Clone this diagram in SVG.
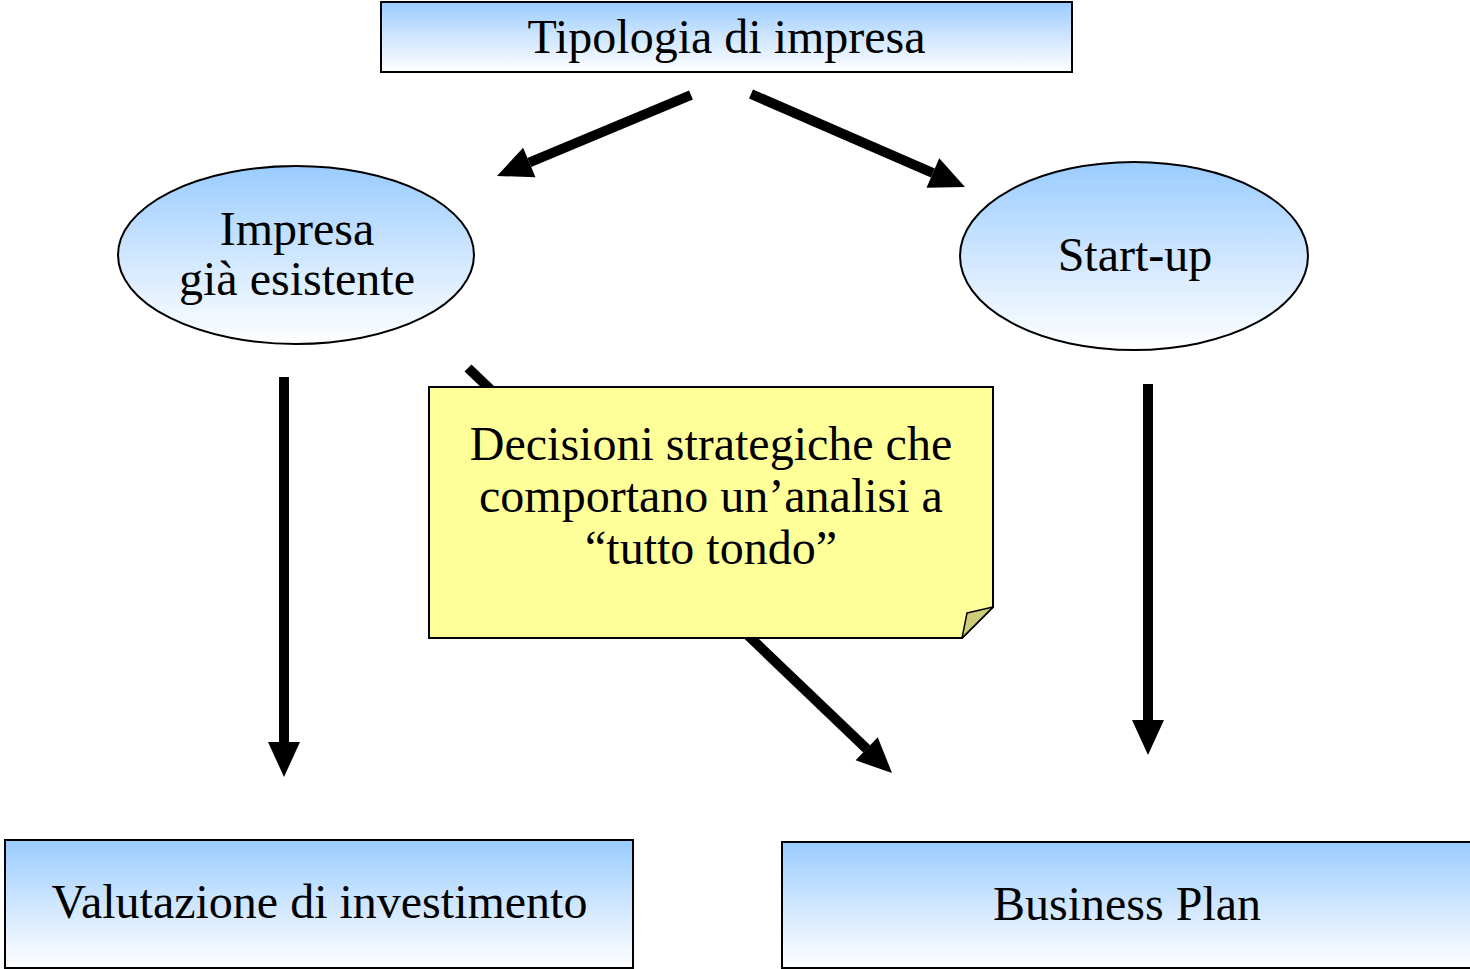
<svg xmlns="http://www.w3.org/2000/svg" width="1470" height="969" viewBox="0 0 1470 969">
  <style>
    .lbl { font-family: "Liberation Serif", "Times New Roman", serif; font-size: 48px; fill: #000; text-anchor: middle; }
    .box { fill: url(#blueFade); stroke: #000; stroke-width: 2; }
    .conn { stroke: #000; stroke-width: 10; fill: none; marker-end: url(#head); }
  </style>
  <defs>
    <linearGradient id="blueFade" x1="0" y1="0" x2="0" y2="1">
      <stop offset="0" stop-color="#99ccff"/>
      <stop offset="0.5" stop-color="#cfe6ff"/>
      <stop offset="1" stop-color="#ffffff"/>
    </linearGradient>
    <!-- head drawn from its base (x=0) forward to the tip -->
    <marker id="head" markerUnits="strokeWidth" markerWidth="3.6" markerHeight="3.4" refX="0" refY="1.6" orient="auto" overflow="visible">
      <path d="M0,0 L3.5,1.6 L0,3.2 Z" fill="#000"/>
    </marker>
  </defs>

  <rect width="1470" height="969" fill="#ffffff"/>

  <!-- connectors -->
  <g id="connectors">
    <line class="conn" x1="691" y1="95" x2="529.3" y2="162.5"/>
    <line class="conn" x1="751" y1="94" x2="932.9" y2="173"/>
    <line class="conn" x1="284" y1="377" x2="284" y2="742"/>
    <line class="conn" x1="468" y1="368" x2="866.7" y2="748.8"/>
    <line class="conn" x1="1148" y1="384" x2="1148" y2="720"/>
  </g>

  <g id="tipologia">
    <rect class="box" x="381" y="2" width="691" height="70"/>
    <text class="lbl" x="726.5" y="53">Tipologia di impresa</text>
  </g>

  <g id="impresa-esistente">
    <ellipse class="box" cx="296" cy="255" rx="178" ry="89"/>
    <text class="lbl" x="297" y="245">Impresa</text>
    <text class="lbl" x="297" y="295">già esistente</text>
  </g>

  <g id="startup">
    <ellipse class="box" cx="1134" cy="256" rx="174" ry="94"/>
    <text class="lbl" x="1135" y="271">Start-up</text>
  </g>

  <g id="nota">
    <path d="M429,387 H993 V607 L962,638 H429 Z" fill="#ffff99" stroke="#000" stroke-width="2"/>
    <path d="M993,607 L962,638 L967,613 Z" fill="#cccc7a" stroke="#000" stroke-width="1.5" stroke-linejoin="round"/>
    <text class="lbl" x="711" y="460">Decisioni strategiche che</text>
    <text class="lbl" x="711" y="512">comportano un’analisi a</text>
    <text class="lbl" x="711" y="564">“tutto tondo”</text>
  </g>

  <g id="valutazione">
    <rect class="box" x="5" y="840" width="628" height="128"/>
    <text class="lbl" x="319.5" y="918">Valutazione di investimento</text>
  </g>

  <g id="business-plan">
    <rect class="box" x="782" y="842" width="692" height="126"/>
    <text class="lbl" x="1127" y="920">Business Plan</text>
  </g>
</svg>
